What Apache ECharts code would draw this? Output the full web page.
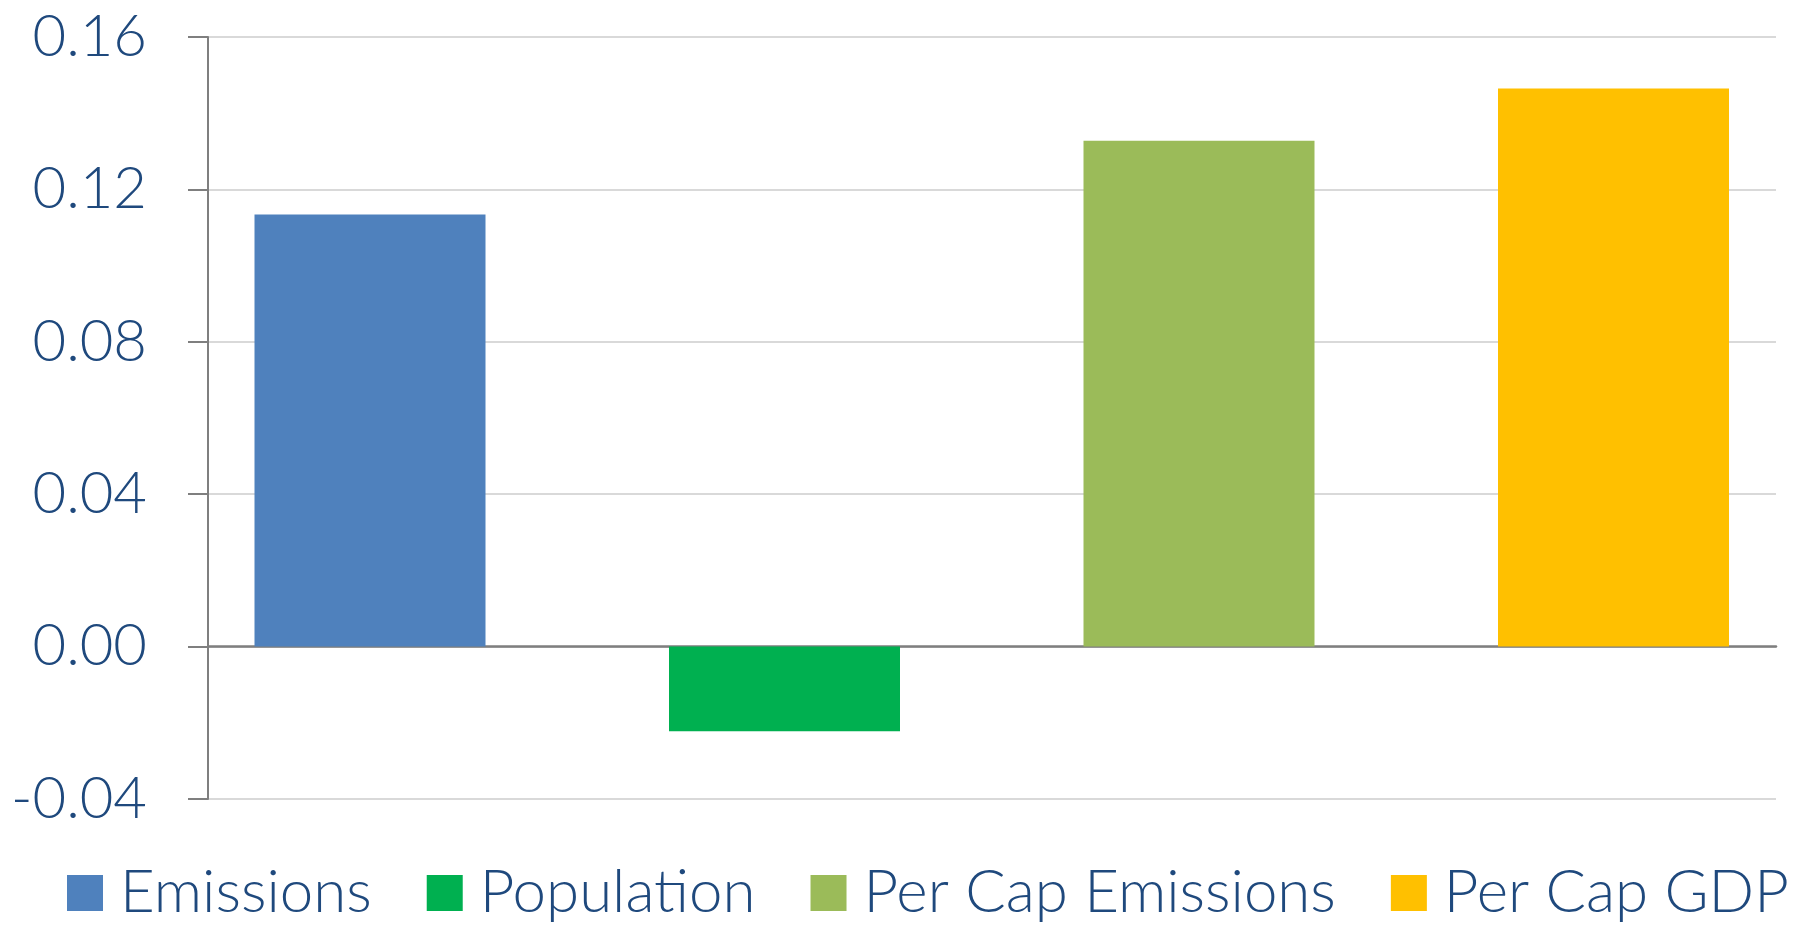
<!DOCTYPE html>
<html>
<head>
<meta charset="utf-8">
<script src="https://cdn.jsdelivr.net/npm/echarts@6/dist/echarts.min.js"></script>
<style>
html,body{margin:0;padding:0;background:#fff;}
#chart{width:1796px;height:927px;}
</style>
</head>
<body>
<div id="chart"></div>
<script>
const categories = ['Emissions', 'Population', 'Per Cap Emissions', 'Per Cap GDP'];
const values = [0.1134, -0.0222, 0.1328, 0.1465];
const colors = ['#4F81BD', '#00B050', '#9BBB59', '#FFC000'];
const yTicks = [-0.04, 0.00, 0.04, 0.08, 0.12, 0.16];

const FONT = 'Lato, "Liberation Sans", sans-serif';
const TEXT = '#1F497D';

const series = categories.map((name, i) => ({
  name: name,
  type: 'bar',
  xAxisIndex: 1,
  yAxisIndex: 1,
  barWidth: 231,
  barGap: '-100%',
  itemStyle: { color: colors[i] },
  data: categories.map((c, j) => (j === i ? values[i] : '-'))
}));

const chart = echarts.init(document.getElementById('chart'), null, { renderer: 'canvas' });
chart.setOption({
  animation: false,
  backgroundColor: '#fff',
  grid: [
    { left: 208, width: 1568, top: 37, height: 762 },
    { left: 370, width: 1243.5, top: 37, height: 762 }
  ],
  xAxis: [
    {
      type: 'category', gridIndex: 0, data: categories,
      axisLine: { show: true, onZero: true, lineStyle: { color: '#7F7F7F', width: 2.5 } },
      axisTick: { show: false }, axisLabel: { show: false }, splitLine: { show: false }
    },
    {
      type: 'category', gridIndex: 1, data: categories, boundaryGap: false,
      axisLine: { show: false }, axisTick: { show: false }, axisLabel: { show: false }, splitLine: { show: false }
    }
  ],
  yAxis: [
    {
      type: 'value', gridIndex: 0,
      min: yTicks[0], max: yTicks[yTicks.length - 1], interval: 0.04,
      axisLine: { show: true, lineStyle: { color: '#7F7F7F', width: 2 } },
      axisTick: { show: true, length: 20, lineStyle: { color: '#7F7F7F', width: 2 } },
      splitLine: { show: true, lineStyle: { color: '#D9D9D9', width: 2 } },
      axisLabel: {
        margin: 61, fontSize: 58, color: TEXT, fontFamily: FONT, fontWeight: 300,
        formatter: v => v.toFixed(2)
      }
    },
    {
      type: 'value', gridIndex: 1,
      min: yTicks[0], max: yTicks[yTicks.length - 1], interval: 0.04,
      show: false
    }
  ],
  legend: {
    data: categories,
    left: 67, top: 863, width: 1725, padding: 0,
    icon: 'rect',
    itemWidth: 36, itemHeight: 36, itemGap: 55,
    textStyle: { fontSize: 60, color: TEXT, fontFamily: FONT, fontWeight: 300, padding: [0, 0, 0, 12] }
  },
  series: series
});
</script>
</body>
</html>
